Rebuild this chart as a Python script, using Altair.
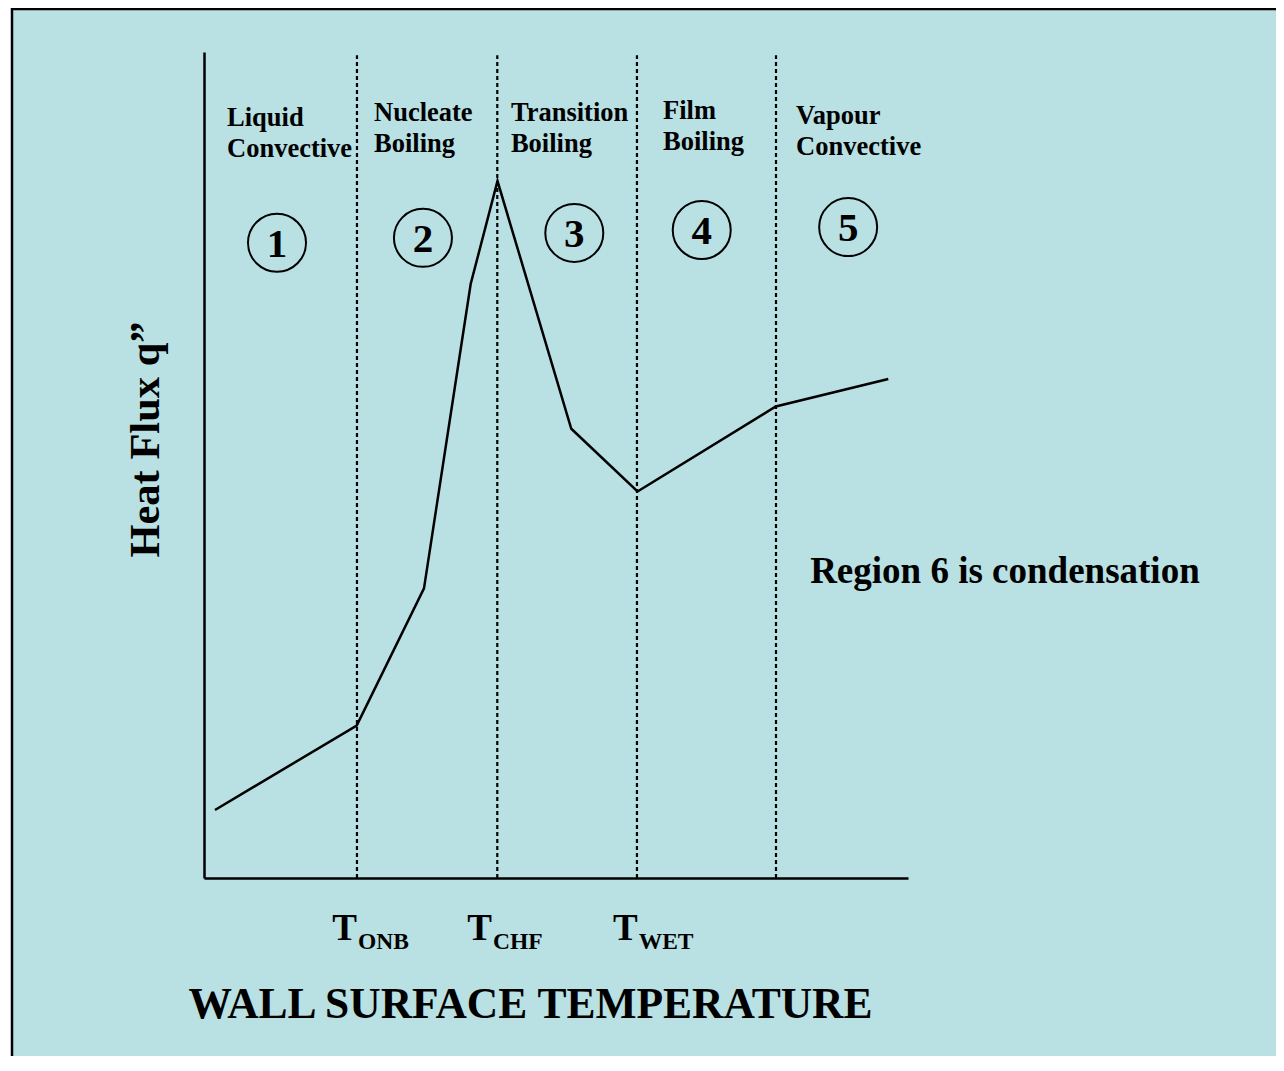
import altair as alt
import pandas as pd

# Boiling curve: x = wall surface temperature (0-100 of axis), y = heat flux (0-100 of axis)
curve_x = [1.56, 21.69, 31.25, 37.88, 41.69, 52.17, 61.58, 81.22, 97.2]
curve_y = [8.23, 18.46, 35.07, 71.91, 84.38, 54.39, 46.79, 57.08, 60.41]

# Regime boundaries (dashed lines)
boundary_x = [21.73, 41.66, 61.5, 81.25]
boundary_top = 99.6

# Region headings
region_names = ["Liquid\nConvective", "Nucleate\nBoiling", "Transition\nBoiling",
                "Film\nBoiling", "Vapour\nConvective"]
region_label_x = [3.27, 24.15, 43.6, 65.2, 84.1]
region_label_y = [91.1, 91.6, 91.7, 91.9, 91.3]

# Region numbers in circles
region_numbers = ["1", "2", "3", "4", "5"]
circle_x = [10.37, 31.1, 52.6, 70.7, 91.5]
circle_y = [76.9, 77.5, 78.1, 78.45, 78.8]

# Temperature tick labels (T with subscript)
tick_main = ["T", "T", "T"]
tick_sub = ["ONB", "CHF", "WET"]
tick_x = [21.73, 40.9, 61.6]
tick_main_y = [-7.5, -7.5, -7.5]
tick_sub_y = [-8.6, -8.6, -8.6]

# Note
note_text = ["Region 6 is condensation"]
note_x = [86.1]
note_y = [35.75]

FONT = "Liberation Serif"
BG = "#B9E0E3"

xs = alt.Scale(domain=[0, 100], nice=False, zero=False)
ys = alt.Scale(domain=[0, 100], nice=False, zero=False)

curve_df = pd.DataFrame({"x": curve_x, "y": curve_y})
bound_df = pd.DataFrame({"x": boundary_x, "y0": [0] * len(boundary_x),
                         "y1": [boundary_top] * len(boundary_x)})
region_df = pd.DataFrame({"x": region_label_x, "y": region_label_y, "t": region_names})
circle_df = pd.DataFrame({"x": circle_x, "y": circle_y, "t": region_numbers})
tick_df = pd.DataFrame({"x": tick_x, "ym": tick_main_y, "ys": tick_sub_y,
                        "m": tick_main, "s": tick_sub})
note_df = pd.DataFrame({"x": note_x, "y": note_y, "t": note_text})

xaxis = alt.Axis(title="WALL SURFACE TEMPERATURE", labels=False, ticks=False, grid=False,
                 domain=True, domainColor="black", domainWidth=2.5, zindex=1,
                 titleFont=FONT, titleFontSize=43.5, titleFontWeight="bold", titleColor="black",
                 titleX=326, titleY=139, titleAlign="center", titleBaseline="alphabetic")
yaxis = alt.Axis(title="Heat Flux q\u201d", labels=False, ticks=False, grid=False,
                 domain=True, domainColor="black", domainWidth=2.5, zindex=1,
                 titleFont=FONT, titleFontSize=42.5, titleFontWeight="bold", titleColor="black",
                 titleX=-46, titleY=387, titleAngle=270, titleAlign="center",
                 titleBaseline="alphabetic")

frame = alt.Chart(pd.DataFrame({"k": [0]})).mark_rect(
    fill=BG, stroke="black", strokeWidth=2.5
).encode(x=alt.value(-192), x2=alt.value(1100), y=alt.value(-43), y2=alt.value(1100))

bounds = alt.Chart(bound_df).mark_rule(
    color="black", strokeWidth=2.2, strokeDash=[4, 3]
).encode(
    x=alt.X("x:Q", scale=xs, axis=xaxis),
    y=alt.Y("y0:Q", scale=ys, axis=yaxis),
    y2="y1:Q",
)

line = alt.Chart(curve_df).mark_line(color="black", strokeWidth=2.5).encode(
    x=alt.X("x:Q", scale=xs), y=alt.Y("y:Q", scale=ys)
)

circles = alt.Chart(circle_df).mark_point(
    shape="circle", filled=False, size=3364, color="black", strokeWidth=2, opacity=1
).encode(x=alt.X("x:Q", scale=xs), y=alt.Y("y:Q", scale=ys))

numbers = alt.Chart(circle_df).mark_text(
    font=FONT, fontSize=41, fontWeight="bold", color="black",
    align="center", baseline="middle", dy=2
).encode(x=alt.X("x:Q", scale=xs), y=alt.Y("y:Q", scale=ys), text="t:N")

regions = alt.Chart(region_df).mark_text(
    font=FONT, fontSize=26.5, fontWeight="bold", color="black",
    align="left", baseline="alphabetic", lineBreak="\n", lineHeight=31
).encode(x=alt.X("x:Q", scale=xs), y=alt.Y("y:Q", scale=ys), text="t:N")

ticks_main = alt.Chart(tick_df).mark_text(
    font=FONT, fontSize=37, fontWeight="bold", color="black",
    align="right", baseline="alphabetic"
).encode(x=alt.X("x:Q", scale=xs), y=alt.Y("ym:Q", scale=ys), text="m:N")

ticks_sub = alt.Chart(tick_df).mark_text(
    font=FONT, fontSize=23.5, fontWeight="bold", color="black",
    align="left", baseline="alphabetic", dx=1
).encode(x=alt.X("x:Q", scale=xs), y=alt.Y("ys:Q", scale=ys), text="s:N")

note = alt.Chart(note_df).mark_text(
    font=FONT, fontSize=37, fontWeight="bold", color="black",
    align="left", baseline="alphabetic"
).encode(x=alt.X("x:Q", scale=xs), y=alt.Y("y:Q", scale=ys), text="t:N")

chart = alt.layer(
    frame, bounds, line, circles, numbers, regions, ticks_main, ticks_sub, note
).properties(
    width=704, height=826,
    autosize="none",
    padding={"left": 196, "top": 44, "right": 368, "bottom": 178},
    background="white",
).configure_view(stroke=None)

chart.save("out.html", embed_options={"renderer": "svg", "actions": False})
